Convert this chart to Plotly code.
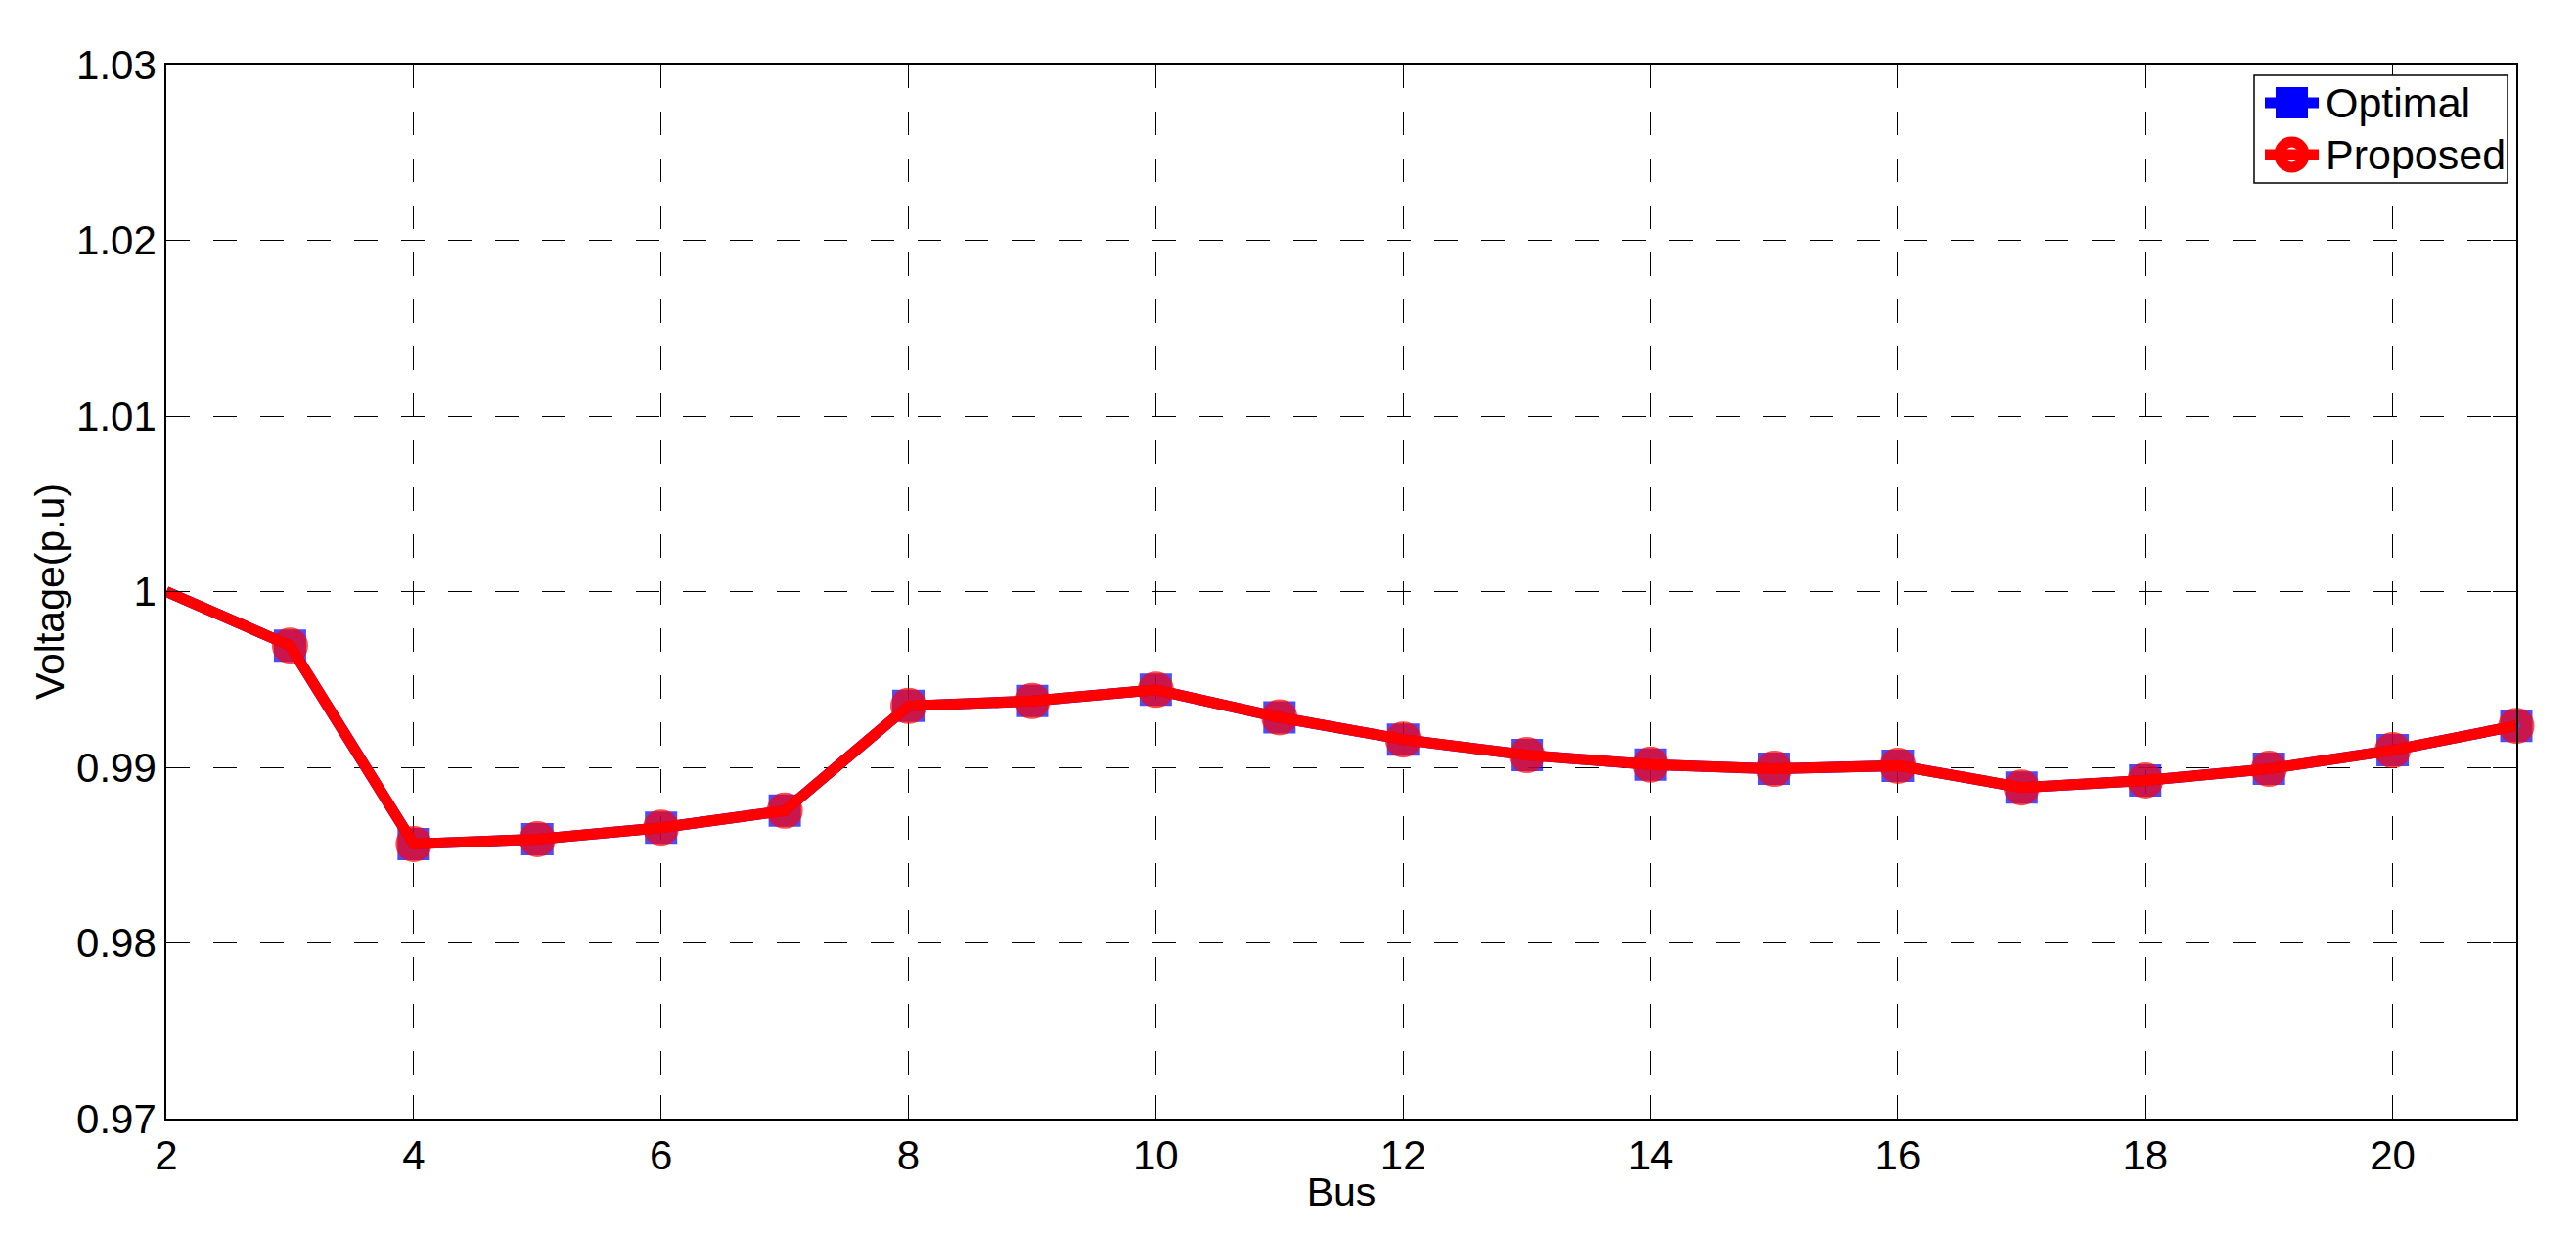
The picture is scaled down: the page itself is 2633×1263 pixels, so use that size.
import plotly.graph_objects as go

# bus voltage profile (p.u.)
bus = list(range(2, 22))
v_optimal = [1.0000, 0.99692, 0.98563, 0.98591, 0.98656, 0.98753, 0.99349,
             0.99377, 0.99441, 0.99284, 0.99158, 0.99069, 0.99015, 0.98991,
             0.99009, 0.98885, 0.98925, 0.98991, 0.99097, 0.99236]
v_proposed = [1.0000, 0.99692, 0.98563, 0.98591, 0.98656, 0.98753, 0.99349,
              0.99377, 0.99441, 0.99284, 0.99158, 0.99069, 0.99015, 0.98991,
              0.99009, 0.98885, 0.98925, 0.98991, 0.99097, 0.99236]
series_names = ["Optimal", "Proposed"]

x_ticks = [2, 4, 6, 8, 10, 12, 14, 16, 18, 20]
y_ticks = [0.97, 0.98, 0.99, 1.00, 1.01, 1.02, 1.03]
y_ticktext = ["0.97", "0.98", "0.99", "1", "1.01", "1.02", "1.03"]

FONT = "Liberation Sans, Arial, sans-serif"
BLUE, RED = "#0000ff", "#ff0000"

# Seite liegt im Browser mit 8px body-margin -> Figur etwas kleiner
W, H = 2625, 1255
ML, MR, MT, MB = 162, 61, 58, 120
PW, PH = W - ML - MR, H - MT - MB


def px(xp, yp):
    # Pixel (bezogen auf Figurecke) -> paper-Koordinaten
    return (xp - ML) / PW, (H - MB - yp) / PH


fig = go.Figure()

# Optimal: blaue Quadrate, liegen fast komplett unter der roten Kurve
fig.add_trace(go.Scatter(
    x=bus, y=v_optimal, mode="lines+markers", name=series_names[0],
    line=dict(color=BLUE, width=11),
    marker=dict(symbol="square", size=[0] + [33] * (len(bus) - 1),
                color=BLUE, line=dict(width=0)),
    cliponaxis=False, showlegend=False,
))
fig.add_trace(go.Scatter(
    x=bus, y=v_proposed, mode="lines+markers", name=series_names[1],
    line=dict(color=RED, width=11),
    marker=dict(symbol="circle-open", size=[0] + [22] * (len(bus) - 1),
                color=RED, line=dict(width=15, color=RED)),
    cliponaxis=False, showlegend=False,
))

axis_common = dict(
    showline=True, linecolor="black", linewidth=1.5, mirror="ticks",
    ticks="inside", ticklen=24, tickwidth=1.2, tickcolor="black",
    showgrid=True, gridcolor="black", gridwidth=1, griddash="24px,24px",
    zeroline=False,
    tickfont=dict(family=FONT, size=42, color="black"),
)

fig.update_xaxes(
    range=[2, 21], tickvals=x_ticks,
    title=dict(text="Bus", font=dict(family=FONT, size=41, color="black"), standoff=0),
    **axis_common,
)
fig.update_yaxes(
    range=[0.97, 1.03], tickvals=y_ticks, ticktext=y_ticktext,
    title=dict(text="Voltage(p.u)", font=dict(family=FONT, size=41, color="black"), standoff=0),
    **axis_common,
)

# ---- eigene Legende (Plotly deckelt Legenden-Marker auf 16px) ----
shapes, annotations = [], []
bx0, by0 = px(2296, 69)
bx1, by1 = px(2555, 179)
shapes.append(dict(type="rect", xref="paper", yref="paper", x0=bx0, y0=by0, x1=bx1, y1=by1,
                   line=dict(color="black", width=1.5), fillcolor="white", layer="above"))
for name, color, yc in [(series_names[0], BLUE, 97), (series_names[1], RED, 150)]:
    lx0, ly = px(2307, yc)
    lx1, _ = px(2362, yc)
    shapes.append(dict(type="line", xref="paper", yref="paper", x0=lx0, y0=ly, x1=lx1, y1=ly,
                       line=dict(color=color, width=11), layer="above"))
    if color == BLUE:
        sx0, sy0 = px(2318, yc + 16)
        sx1, sy1 = px(2351, yc - 16)
        shapes.append(dict(type="rect", xref="paper", yref="paper", x0=sx0, y0=sy0, x1=sx1, y1=sy1,
                           line=dict(width=0), fillcolor=color, layer="above"))
    else:
        cx0, cy0 = px(2322, yc + 13)
        cx1, cy1 = px(2347, yc - 13)
        shapes.append(dict(type="circle", xref="paper", yref="paper", x0=cx0, y0=cy0, x1=cx1, y1=cy1,
                           line=dict(color=color, width=11), fillcolor="rgba(0,0,0,0)", layer="above"))
    tx, ty = px(2367, yc)
    annotations.append(dict(text=name, xref="paper", yref="paper", x=tx, y=ty,
                            xanchor="left", yanchor="middle", showarrow=False,
                            font=dict(family=FONT, size=43, color="black")))

fig.update_layout(
    width=W, height=H,
    paper_bgcolor="white", plot_bgcolor="white",
    margin=dict(l=ML, r=MR, t=MT, b=MB),
    font=dict(family=FONT, size=42, color="black"),
    showlegend=False,
    shapes=shapes, annotations=annotations,
)

fig.write_html("out.html")
